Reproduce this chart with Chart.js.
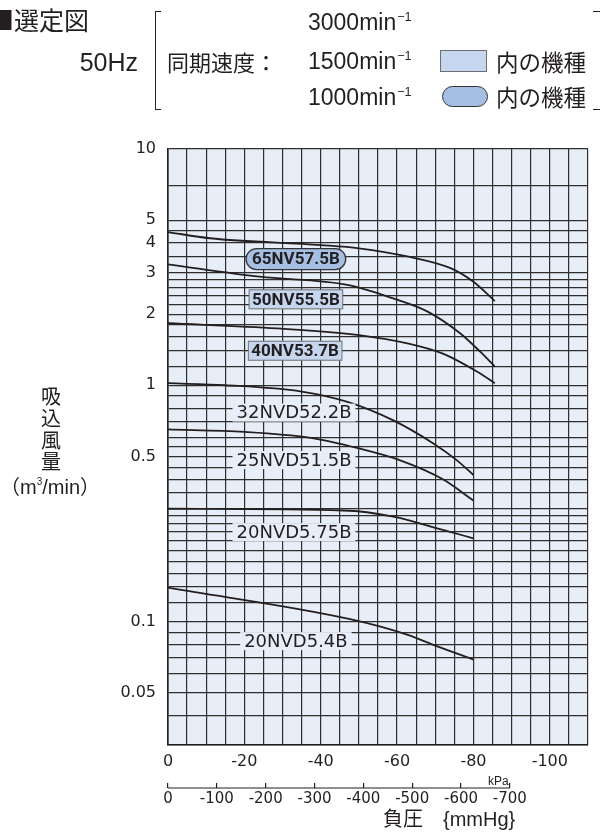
<!DOCTYPE html>
<html><head><meta charset="utf-8">
<script src="https://cdn.jsdelivr.net/npm/chart.js@4.4.1/dist/chart.umd.min.js"></script>
<style>
html,body{margin:0;padding:0;background:#fff;}
#wrap{position:relative;width:600px;height:838px;overflow:hidden;background:#fff;}
#c{position:absolute;left:0;top:0;}
.t{position:absolute;white-space:nowrap;color:#231f20;line-height:1;}
.jp{font-family:"Noto Sans CJK JP","Noto Sans",sans-serif;}
.la{font-family:"Liberation Sans",Arial,sans-serif;}
.sup{font-size:0.55em;position:relative;top:-0.75em;margin-left:1px;}
</style></head><body>
<div id="wrap">
<canvas id="c" width="600" height="838"></canvas>

<div class="t jp" style="left:-11px;top:7px;font-size:25px;">■選定図</div>
<div class="t la" style="right:462px;top:50px;font-size:25px;">50Hz</div>
<div style="position:absolute;left:155px;top:11px;width:5px;height:97px;border-left:1px solid #231f20;border-top:1px solid #231f20;border-bottom:1px solid #231f20;"></div>
<div class="t jp" style="left:167px;top:50px;font-size:22px;">同期速度：</div>
<div class="t la" style="left:308px;top:11px;font-size:23px;">3000min<span class="sup">−1</span></div>
<div class="t la" style="left:308px;top:50px;font-size:23px;">1500min<span class="sup">−1</span></div>
<div class="t la" style="left:308px;top:86px;font-size:23px;">1000min<span class="sup">−1</span></div>
<div style="position:absolute;left:440px;top:50px;width:45px;height:20px;background:#c6d6ee;border:1px solid #6d6e71;"></div>
<div style="position:absolute;left:442px;top:86px;width:44px;height:19px;background:#a5bfe3;border:1.2px solid #333;border-radius:11px;"></div>
<div class="t jp" style="left:496px;top:50px;font-size:22.5px;">内の機種</div>
<div class="t jp" style="left:496px;top:85px;font-size:22.5px;">内の機種</div>
<div style="position:absolute;left:593px;top:11px;width:8px;height:97px;border-top:1px solid #231f20;border-bottom:1px solid #231f20;"></div>

<div class="t jp" style="left:41px;top:386px;width:20px;text-align:center;font-size:20px;">吸</div>
<div class="t jp" style="left:41px;top:408px;width:20px;text-align:center;font-size:20px;">込</div>
<div class="t jp" style="left:41px;top:430px;width:20px;text-align:center;font-size:20px;">風</div>
<div class="t jp" style="left:41px;top:451px;width:20px;text-align:center;font-size:20px;">量</div>
<div class="t" style="left:0px;top:476px;width:98px;text-align:center;font-size:20px;"><span class="jp">（</span><span class="la">m<span style="font-size:0.5em;position:relative;top:-0.9em;">3</span>/min</span><span class="jp">）</span></div>

<div class="t la" style="left:488px;top:775px;font-size:12px;">kPa</div>
<div class="t" style="left:383px;top:808px;font-size:20px;"><span class="jp">負圧</span><span class="jp">　</span><span class="la">{mmHg}</span></div>
</div>

<script>
// ---- axis ticks ----
const kpaTickLabels = [0, -20, -40, -60, -80, -100];
const kpaGridStep = 5;
const kpaMin = -110;
const mmHgTickLabels = [0, -100, -200, -300, -400, -500, -600, -700];
const mmHgMin = -860;
const flowTickLabels = [10, 5, 4, 3, 2, 1, 0.5, 0.1, 0.05];
const flowGrid = [0.03, 0.04, 0.05, 0.06, 0.07, 0.08, 0.09,
  0.1, 0.12, 0.14, 0.16, 0.18, 0.2, 0.22, 0.24, 0.26, 0.28, 0.3, 0.35, 0.4, 0.45, 0.5, 0.55, 0.6, 0.7, 0.8, 0.9,
  1, 1.2, 1.4, 1.6, 1.8, 2, 2.2, 2.4, 2.6, 2.8, 3, 3.5, 4, 4.5, 5, 7, 10];

// ---- series (x: kPa, y: m3/min) ----
const nv65_575_x = [0, -11, -40, -50, -63, -74, -80, -85.6];
const nv65_575_y = [4.45, 4.19, 3.92, 3.80, 3.50, 3.13, 2.74, 2.27];
const nv50_555_x = [0, -24, -47, -59, -68, -76.5, -81.7, -85.6];
const nv50_555_y = [3.25, 2.88, 2.66, 2.33, 2.05, 1.66, 1.39, 1.20];
const nv40_537_x = [0, -28.5, -50, -63, -72, -81, -85.6];
const nv40_537_y = [1.83, 1.74, 1.63, 1.50, 1.36, 1.14, 1.02];
const nvd32_522_x = [0, -15, -35, -47, -59, -69.5, -75.6, -80];
const nvd32_522_y = [1.02, 1.0, 0.94, 0.85, 0.71, 0.567, 0.482, 0.417];
const nvd25_515_x = [0, -20, -37, -50, -61, -72, -80];
const nvd25_515_y = [0.65, 0.635, 0.60, 0.54, 0.48, 0.40, 0.325];
const nvd20_575_x = [0, -46, -59, -72, -80];
const nvd20_575_y = [0.30, 0.295, 0.278, 0.244, 0.225];
const nvd20_54_x = [0, -48, -63, -70, -80];
const nvd20_54_y = [0.139, 0.102, 0.0875, 0.079, 0.069];

// ---- model labels ----
const modelNames = ['65NV57.5B', '50NV55.5B', '40NV53.7B', '32NVD52.2B', '25NVD51.5B', '20NVD5.75B', '20NVD5.4B'];
const modelLabelKpa = [-33.5, -33.5, -33.3, -33, -33, -33, -33.5];
const modelLabelFlow = [3.42, 2.31, 1.40, 0.766, 0.482, 0.239, 0.0826];
const modelLabelKind = ['pill', 'rect', 'rect', 'plain', 'plain', 'plain', 'plain'];

const seriesX = [nv65_575_x, nv50_555_x, nv40_537_x, nvd32_522_x, nvd25_515_x, nvd20_575_x, nvd20_54_x];
const seriesY = [nv65_575_y, nv50_555_y, nv40_537_y, nvd32_522_y, nvd25_515_y, nvd20_575_y, nvd20_54_y];

const PLOT_BG = '#e8eef7';
const INK = '#231f20';

const datasets = seriesX.map((xs, i) => ({
  label: modelNames[i],
  data: xs.map((x, j) => ({ x: x, y: seriesY[i][j] })),
  borderColor: INK,
  borderWidth: 1.8,
  pointRadius: 0,
  fill: false,
  cubicInterpolationMode: 'monotone'
}));

const bgPlugin = {
  id: 'plotBg',
  beforeDraw(chart) {
    const a = chart.chartArea, ctx = chart.ctx;
    ctx.save();
    ctx.fillStyle = PLOT_BG;
    ctx.fillRect(a.left, a.top, a.right - a.left, a.bottom - a.top);
    ctx.restore();
  }
};

function roundRect(ctx, x, y, w, h, r) {
  ctx.beginPath();
  ctx.moveTo(x + r, y);
  ctx.lineTo(x + w - r, y);
  ctx.arc(x + w - r, y + r, r, -Math.PI / 2, Math.PI / 2);
  ctx.lineTo(x + r, y + h);
  ctx.arc(x + r, y + r, r, Math.PI / 2, Math.PI * 1.5);
  ctx.closePath();
}

const labelPlugin = {
  id: 'modelLabels',
  afterDatasetsDraw(chart) {
    const ctx = chart.ctx, xs = chart.scales.x, ys = chart.scales.y;
    modelNames.forEach((name, i) => {
      const cx = xs.getPixelForValue(modelLabelKpa[i]);
      const cy = ys.getPixelForValue(modelLabelFlow[i]);
      const kind = modelLabelKind[i];
      ctx.save();
      ctx.textAlign = 'center';
      ctx.textBaseline = 'middle';
      if (kind === 'plain') {
        ctx.font = '500 18px "DejaVu Sans", sans-serif';
        const w = ctx.measureText(name).width;
        ctx.fillStyle = PLOT_BG;
        ctx.fillRect(cx - w / 2 - 4, cy - 9, w + 8, 18);
        ctx.fillStyle = INK;
        ctx.fillText(name, cx, cy + 1);
      } else {
        ctx.font = 'bold 17px Roboto, "Liberation Sans", sans-serif';
        const w = ctx.measureText(name).width;
        if (kind === 'pill') {
          const bw = w + 12, bh = 21;
          roundRect(ctx, cx - bw / 2, cy - bh / 2, bw, bh, bh / 2);
          ctx.fillStyle = '#a5bfe3';
          ctx.fill();
          ctx.lineWidth = 1.3;
          ctx.strokeStyle = '#333';
          ctx.stroke();
        } else {
          const bw = w + 6, bh = 19;
          ctx.fillStyle = '#c6d6ee';
          ctx.fillRect(cx - bw / 2, cy - bh / 2, bw, bh);
          ctx.lineWidth = 1;
          ctx.strokeStyle = '#6d6e71';
          ctx.strokeRect(cx - bw / 2, cy - bh / 2, bw, bh);
        }
        ctx.fillStyle = INK;
        ctx.fillText(name, cx, cy + 1);
      }
      ctx.restore();
    });
  }
};

const mmHgLinePlugin = {
  id: 'mmHgLine',
  afterDraw(chart) {
    const s = chart.scales.x2, ctx = chart.ctx;
    const yLine = s.top + 5;
    ctx.save();
    ctx.strokeStyle = INK;
    ctx.lineWidth = 1.2;
    ctx.beginPath();
    ctx.moveTo(s.getPixelForValue(mmHgTickLabels[0]), yLine);
    ctx.lineTo(s.getPixelForValue(mmHgTickLabels[mmHgTickLabels.length - 1]), yLine);
    ctx.stroke();
    ctx.restore();
  }
};

const kpaGrid = [];
for (let v = 0; v >= kpaMin; v -= kpaGridStep) kpaGrid.push(v);

new Chart(document.getElementById('c'), {
  type: 'line',
  data: { datasets: datasets },
  plugins: [bgPlugin, labelPlugin, mmHgLinePlugin],
  options: {
    responsive: false,
    animation: false,
    events: [],
    layout: { padding: { left: 0, top: 149, right: 12, bottom: 25 } },
    plugins: { legend: { display: false }, tooltip: { enabled: false } },
    scales: {
      x: {
        type: 'linear', position: 'bottom', weight: 0,
        min: kpaMin, max: 0, reverse: true,
        afterBuildTicks: s => { s.ticks = kpaGrid.map(v => ({ value: v })); },
        afterFit: s => { s.height = 38; },
        grid: { color: '#2e2e2e', lineWidth: 1.2, drawTicks: false },
        border: { display: true, color: INK, width: 1.6 },
        ticks: {
          autoSkip: false, maxRotation: 0, minRotation: 0, padding: 7,
          color: INK, font: { family: '"DejaVu Sans", sans-serif', size: 16 },
          callback: v => kpaTickLabels.includes(v) ? String(v) : ''
        }
      },
      x2: {
        type: 'linear', position: 'bottom', weight: 1,
        min: mmHgMin, max: 0, reverse: true,
        afterBuildTicks: s => { s.ticks = mmHgTickLabels.map(v => ({ value: v })); },
        afterFit: s => { s.height = 30; },
        grid: { drawOnChartArea: false, drawTicks: true, tickLength: 5, color: INK, lineWidth: 1.2 },
        border: { display: false },
        ticks: {
          autoSkip: false, maxRotation: 0, minRotation: 0, padding: 2,
          color: INK, font: { family: '"DejaVu Sans", sans-serif', size: 15 },
          callback: v => String(v)
        }
      },
      y: {
        type: 'logarithmic', position: 'left',
        min: 0.03, max: 10,
        afterBuildTicks: s => { s.ticks = flowGrid.map(v => ({ value: v })); },
        afterFit: s => { s.width = 168; },
        grid: { color: '#2e2e2e', lineWidth: 1.2, drawTicks: false },
        border: { display: true, color: INK, width: 1.6 },
        ticks: {
          autoSkip: false, padding: 12,
          color: INK, font: { family: '"DejaVu Sans", sans-serif', size: 16 },
          callback: v => flowTickLabels.includes(v) ? String(v) : ''
        }
      }
    }
  }
});
</script>
</body></html>
